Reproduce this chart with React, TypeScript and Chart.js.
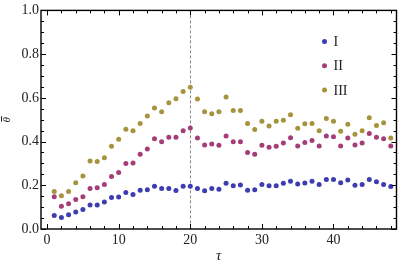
import React, { useEffect, useRef } from "react";
import { Chart, registerables } from "chart.js";

Chart.register(...registerables);

const tau = [1, 2, 3, 4, 5, 6, 7, 8, 9, 10, 11, 12, 13, 14, 15, 16, 17, 18, 19, 20, 21, 22, 23, 24, 25, 26, 27, 28, 29, 30, 31, 32, 33, 34, 35, 36, 37, 38, 39, 40, 41, 42, 43, 44, 45, 46, 47, 48];

const seriesI = [0.062, 0.053, 0.065, 0.078, 0.089, 0.11, 0.11, 0.123, 0.144, 0.146, 0.167, 0.158, 0.177, 0.18, 0.195, 0.185, 0.185, 0.176, 0.195, 0.195, 0.185, 0.175, 0.185, 0.182, 0.209, 0.198, 0.201, 0.177, 0.18, 0.203, 0.198, 0.198, 0.209, 0.219, 0.206, 0.21, 0.219, 0.203, 0.227, 0.227, 0.212, 0.224, 0.2, 0.203, 0.227, 0.216, 0.204, 0.194];

const seriesII = [0.147, 0.104, 0.116, 0.135, 0.147, 0.185, 0.189, 0.204, 0.24, 0.258, 0.3, 0.302, 0.342, 0.366, 0.413, 0.399, 0.42, 0.42, 0.45, 0.462, 0.416, 0.384, 0.389, 0.383, 0.425, 0.399, 0.399, 0.35, 0.342, 0.383, 0.374, 0.378, 0.393, 0.417, 0.38, 0.396, 0.405, 0.38, 0.426, 0.422, 0.38, 0.416, 0.384, 0.393, 0.437, 0.42, 0.413, 0.38];

const seriesIII = [0.171, 0.152, 0.171, 0.212, 0.243, 0.311, 0.309, 0.326, 0.378, 0.411, 0.456, 0.45, 0.483, 0.517, 0.554, 0.536, 0.578, 0.596, 0.629, 0.649, 0.595, 0.536, 0.527, 0.536, 0.604, 0.542, 0.542, 0.483, 0.455, 0.493, 0.471, 0.493, 0.498, 0.523, 0.461, 0.482, 0.483, 0.45, 0.506, 0.493, 0.447, 0.479, 0.434, 0.449, 0.509, 0.473, 0.486, 0.416];

const seriesLabels = ["I", "II", "III"];
const seriesColors = ["#3d3db0", "#a53d78", "#a6933e"];
const xTicks = [0, 10, 20, 30, 40];
const yTicks = [0, 0.2, 0.4, 0.6, 0.8, 1.0];
const markerLine = 20;
const xTitle = "τ";
const yTitle = "θ";

const FONT = "'Liberation Serif', 'DejaVu Serif', serif";

const framePlugin = {
  id: "framePlugin",
  beforeDatasetsDraw(chart: any) {
    const { ctx, chartArea, scales } = chart;
    const x = scales.x.getPixelForValue(markerLine);
    ctx.save();
    ctx.strokeStyle = "#8a8a8a";
    ctx.lineWidth = 1;
    ctx.setLineDash([3, 2]);
    ctx.beginPath();
    ctx.moveTo(Math.round(x) + 0.5, chartArea.top);
    ctx.lineTo(Math.round(x) + 0.5, chartArea.bottom);
    ctx.stroke();
    ctx.restore();
  },
  afterDatasetsDraw(chart: any) {
    const { ctx, chartArea, scales } = chart;
    const { left, right, top, bottom } = chartArea;
    ctx.save();
    ctx.strokeStyle = "#000";
    ctx.lineWidth = 1;
    ctx.beginPath();
    for (let v = 0; v <= 48; v += 2) {
      const px = Math.round(scales.x.getPixelForValue(v)) + 0.5;
      const len = v % 10 === 0 ? 5 : 3;
      ctx.moveTo(px, bottom);
      ctx.lineTo(px, bottom - len);
      ctx.moveTo(px, top);
      ctx.lineTo(px, top + len);
    }
    for (let i = 0; i <= 20; i++) {
      const v = i * 0.05;
      const py = Math.round(scales.y.getPixelForValue(v)) + 0.5;
      const len = i % 4 === 0 ? 5 : 3;
      ctx.moveTo(left, py);
      ctx.lineTo(left + len, py);
      ctx.moveTo(right, py);
      ctx.lineTo(right - len, py);
    }
    ctx.stroke();
    ctx.lineWidth = 1.4;
    ctx.strokeRect(left, top, right - left, bottom - top);

    // legend
    ctx.font = "14px " + FONT;
    ctx.textBaseline = "middle";
    ctx.textAlign = "left";
    const lx = right - 72;
    for (let i = 0; i < seriesLabels.length; i++) {
      const ly = top + 31 + i * 24.3;
      ctx.fillStyle = seriesColors[i];
      ctx.beginPath();
      ctx.arc(lx, ly, 2.5, 0, Math.PI * 2);
      ctx.fill();
      ctx.fillStyle = "#222";
      ctx.fillText(seriesLabels[i], lx + 9, ly + 1);
    }

    // x title
    ctx.fillStyle = "#222";
    ctx.font = "italic 15px " + FONT;
    ctx.textAlign = "center";
    ctx.textBaseline = "alphabetic";
    ctx.fillText(xTitle, (left + right) / 2, chart.height - 4);

    // y title (theta with overbar), rotated
    ctx.translate(7, (top + bottom) / 2);
    ctx.rotate(-Math.PI / 2);
    ctx.font = "italic 11px " + FONT;
    ctx.textAlign = "center";
    ctx.textBaseline = "alphabetic";
    ctx.fillText(yTitle, 0, 3);
    ctx.strokeStyle = "#222";
    ctx.lineWidth = 1;
    ctx.beginPath();
    ctx.moveTo(-2, -5.5);
    ctx.lineTo(3.5, -5.5);
    ctx.stroke();
    ctx.restore();
  },
};

export default function App() {
  const ref = useRef<HTMLCanvasElement | null>(null);
  useEffect(() => {
    document.body.style.margin = "0";
    const canvas = ref.current;
    if (!canvas) return;
    const all = [seriesI, seriesII, seriesIII];
    const chart = new Chart(canvas, {
      type: "scatter",
      data: {
        datasets: all.map((s, i) => ({
          label: seriesLabels[i],
          data: tau.map((t, j) => ({ x: t, y: s[j] })),
          backgroundColor: seriesColors[i],
          borderWidth: 0,
          pointRadius: 2.5,
          pointHoverRadius: 2.5,
        })),
      },
      options: {
        responsive: false,
        animation: false,
        devicePixelRatio: 1,
        layout: { padding: { top: 7, right: 1, left: 0, bottom: 0 } },
        plugins: { legend: { display: false }, tooltip: { enabled: false } },
        scales: {
          x: {
            type: "linear",
            min: -0.85,
            max: 48.8,
            afterBuildTicks: (scale: any) => {
              scale.ticks = xTicks.map((v) => ({ value: v }));
            },
            afterFit: (scale: any) => {
              scale.height = 35;
            },
            grid: { display: false, drawTicks: false },
            border: { display: false },
            ticks: {
              padding: 3,
              color: "#222",
              font: { family: FONT, size: 14 },
              maxRotation: 0,
              callback: (v: any) => String(v),
            },
          },
          y: {
            type: "linear",
            min: 0,
            max: 1,
            afterBuildTicks: (scale: any) => {
              scale.ticks = yTicks.map((v) => ({ value: v }));
            },
            afterFit: (scale: any) => {
              scale.width = 41;
            },
            grid: { display: false, drawTicks: false },
            border: { display: false },
            ticks: {
              padding: 2,
              color: "#222",
              font: { family: FONT, size: 14 },
              callback: (v: any) => Number(v).toFixed(1),
            },
          },
        },
      },
      plugins: [framePlugin],
    });
    return () => chart.destroy();
  }, []);
  return <canvas ref={ref} width={399} height={264} style={{ display: "block" }} />;
}
